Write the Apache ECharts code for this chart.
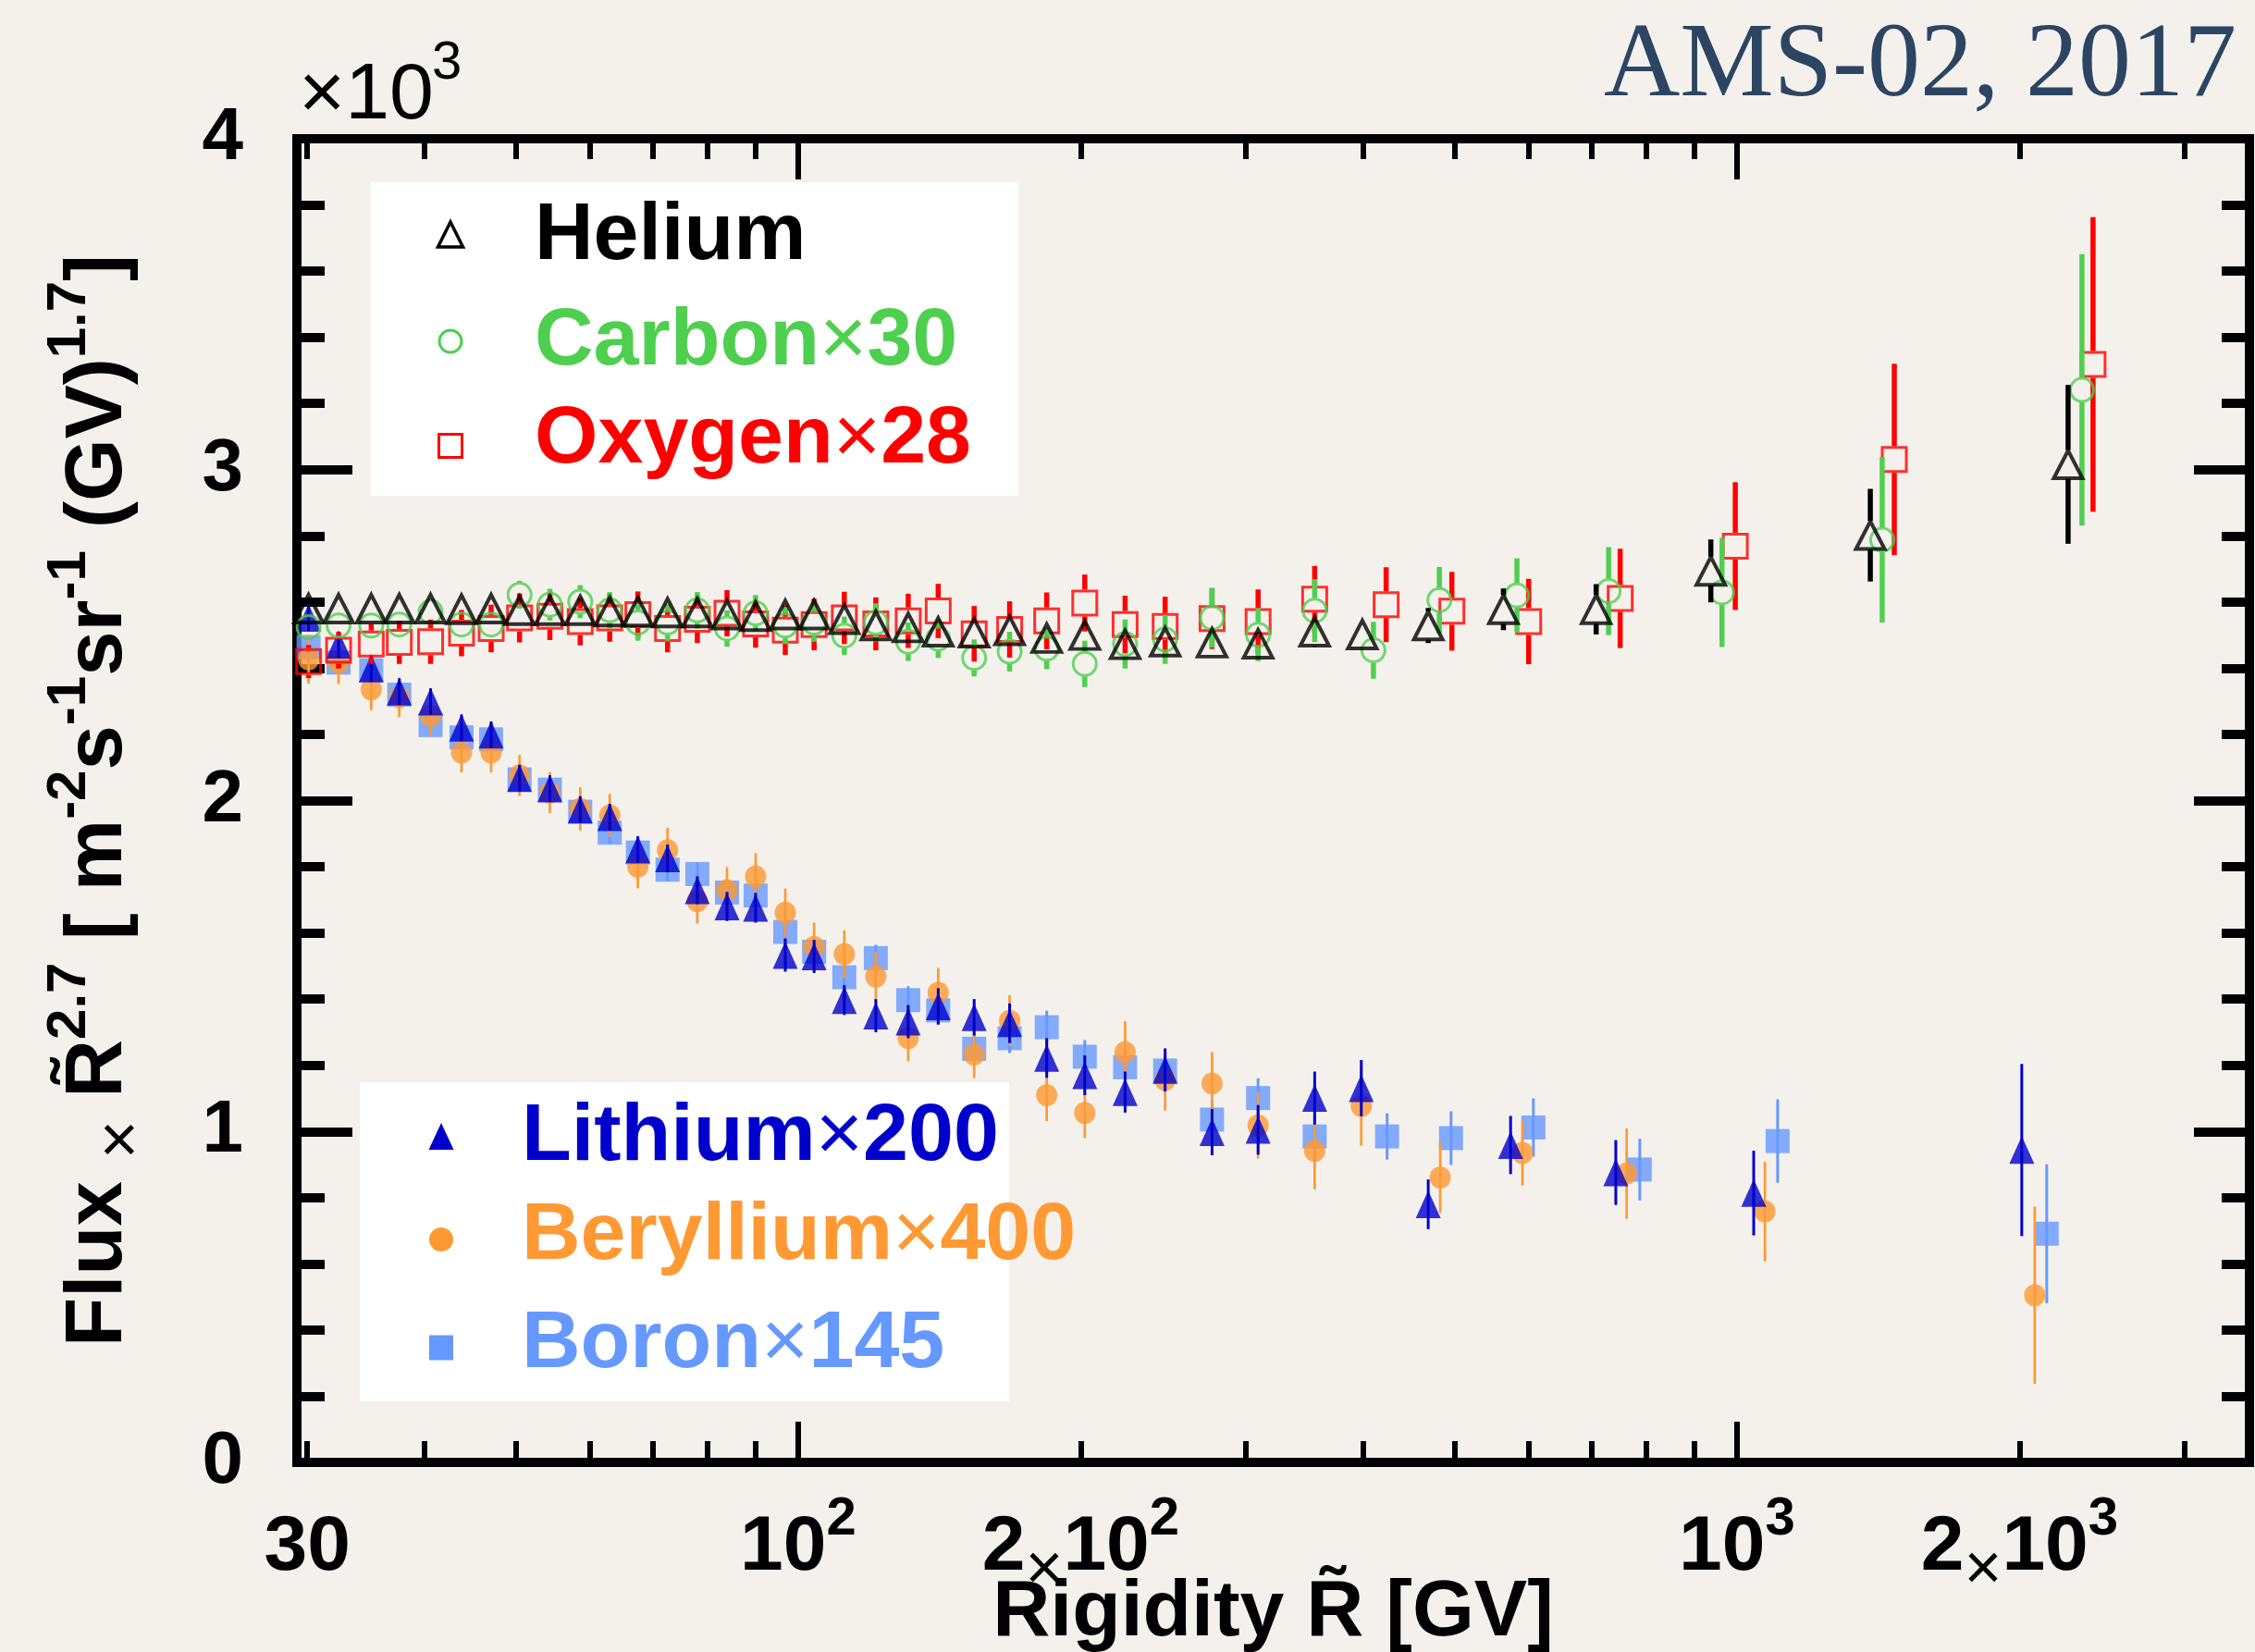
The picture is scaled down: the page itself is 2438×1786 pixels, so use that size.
<!DOCTYPE html>
<html>
<head>
<meta charset="utf-8">
<script src="https://cdn.jsdelivr.net/npm/echarts@6/dist/echarts.min.js"></script>
<style>
  html, body { margin: 0; padding: 0; background: #f4f1ec; }
  #chart { width: 2438px; height: 1786px; }
</style>
</head>
<body>
<div id="chart"></div>
<script>
// Rigidity (GV) and flux x R^2.7 values for each nucleus (scaled as in the legend)
const heliumR    = [30.1, 32.4, 35.1, 37.6, 40.6, 43.8, 47.1, 50.5, 54.4, 58.6, 63.0, 67.5, 72.6, 78.1, 84.0, 90.1, 96.9, 104, 112, 121, 131, 141, 154, 168, 184, 202, 223, 246, 276, 309, 355, 399, 469, 564, 708, 938, 1387, 2253];
const heliumFlux = [2580, 2580, 2580, 2580, 2580, 2578, 2580, 2575, 2575, 2575, 2571, 2571, 2568, 2568, 2562, 2557, 2562, 2562, 2548, 2529, 2523, 2510, 2507, 2514, 2491, 2500, 2472, 2480, 2477, 2474, 2510, 2502, 2529, 2578, 2578, 2694, 2802, 3016];
const heliumErr  = [15, 15, 15, 15, 15, 15, 15, 15, 15, 15, 15, 15, 15, 15, 15, 15, 15, 18, 18, 18, 20, 20, 20, 22, 22, 25, 25, 28, 30, 35, 45, 40, 53, 63, 76, 95, 140, 240];

const carbonR    = [30.1, 32.4, 35.1, 37.6, 40.6, 43.8, 47.1, 50.5, 54.4, 58.6, 63.0, 67.5, 72.6, 78.1, 84.0, 90.1, 96.9, 104, 112, 121, 131, 141, 154, 168, 184, 202, 223, 246, 276, 309, 355, 410, 482, 583, 730, 964, 1428, 2331];
const carbonFlux = [2524, 2529, 2529, 2532, 2570, 2532, 2532, 2622, 2592, 2601, 2575, 2538, 2538, 2575, 2520, 2566, 2529, 2538, 2498, 2538, 2480, 2489, 2431, 2450, 2459, 2413, 2473, 2487, 2552, 2501, 2574, 2454, 2606, 2620, 2633, 2629, 2788, 3241];
const carbonErr  = [33, 33, 33, 33, 35, 35, 35, 42, 48, 50, 55, 55, 55, 55, 55, 55, 56, 58, 58, 58, 58, 58, 56, 60, 62, 70, 74, 74, 90, 80, 95, 86, 100, 112, 133, 165, 250, 410];

const oxygenR    = [30.1, 32.4, 35.1, 37.6, 40.6, 43.8, 47.1, 50.5, 54.4, 58.6, 63.0, 67.5, 72.6, 78.1, 84.0, 90.1, 96.9, 104, 112, 121, 131, 141, 154, 168, 184, 202, 223, 246, 276, 309, 355, 423, 497, 600, 751, 996, 1471, 2395];
const oxygenFlux = [2420, 2454, 2473, 2478, 2480, 2506, 2520, 2552, 2557, 2541, 2552, 2562, 2520, 2548, 2566, 2534, 2515, 2532, 2552, 2534, 2543, 2573, 2504, 2517, 2543, 2597, 2532, 2526, 2550, 2541, 2609, 2592, 2572, 2541, 2611, 2769, 3031, 3318];
const oxygenErr  = [50, 55, 60, 65, 67, 70, 72, 74, 72, 72, 72, 70, 72, 72, 70, 72, 75, 78, 79, 80, 82, 82, 84, 85, 86, 86, 87, 90, 92, 97, 100, 113, 119, 129, 150, 193, 289, 445];

const lithiumR    = [30.1, 32.4, 35.1, 37.6, 40.6, 43.8, 47.1, 50.5, 54.4, 58.6, 63.0, 67.5, 72.6, 78.1, 84.0, 90.1, 96.9, 104, 112, 121, 131, 141, 154, 168, 184, 202, 223, 246, 276, 309, 355, 398, 469, 574, 743, 1042, 2011];
const lithiumFlux = [2552, 2471, 2399, 2329, 2299, 2220, 2199, 2068, 2036, 1973, 1950, 1852, 1825, 1729, 1680, 1676, 1533, 1529, 1397, 1350, 1332, 1378, 1345, 1327, 1222, 1170, 1119, 1186, 998, 1005, 1101, 1131, 780, 959, 876, 814, 944];
const lithiumErr  = [40, 40, 40, 40, 40, 40, 40, 40, 40, 40, 40, 40, 42, 42, 44, 45, 50, 50, 45, 50, 50, 55, 55, 60, 60, 60, 62, 65, 70, 75, 80, 85, 75, 88, 98, 128, 260];

const berylliumR    = [30.1, 32.4, 35.1, 37.6, 40.6, 43.8, 47.1, 50.5, 54.4, 58.6, 63.0, 67.5, 72.6, 78.1, 84.0, 90.1, 96.9, 104, 112, 121, 131, 141, 154, 168, 184, 202, 223, 246, 276, 309, 355, 398, 483, 591, 763, 1071, 2076];
const berylliumFlux = [2427, 2417, 2336, 2312, 2256, 2145, 2145, 2076, 2024, 1975, 1955, 1800, 1850, 1696, 1729, 1771, 1661, 1558, 1536, 1468, 1282, 1419, 1233, 1335, 1110, 1056, 1240, 1156, 1145, 1018, 941, 1077, 861, 935, 873, 758, 505];
const berylliumErr  = [74, 65, 63, 60, 60, 60, 60, 62, 62, 65, 65, 65, 68, 68, 70, 70, 73, 73, 72, 75, 70, 75, 72, 77, 79, 76, 93, 93, 95, 100, 116, 120, 107, 98, 137, 151, 268];

const boronR    = [30.1, 32.4, 35.1, 37.6, 40.6, 43.8, 47.1, 50.5, 54.4, 58.6, 63.0, 67.5, 72.6, 78.1, 84.0, 90.1, 96.9, 104, 112, 121, 131, 141, 154, 168, 184, 202, 223, 246, 276, 309, 355, 424, 496, 607, 788, 1105, 2138];
const boronFlux = [2464, 2417, 2394, 2320, 2228, 2191, 2185, 2064, 2033, 1966, 1903, 1843, 1791, 1778, 1722, 1713, 1603, 1543, 1466, 1524, 1397, 1366, 1250, 1282, 1315, 1226, 1194, 1184, 1036, 1101, 985, 985, 980, 1012, 885, 971, 691];
const boronErr  = [30, 30, 30, 30, 30, 30, 30, 32, 32, 32, 34, 34, 35, 35, 36, 36, 38, 38, 40, 40, 42, 42, 44, 45, 50, 50, 52, 55, 58, 60, 65, 70, 81, 88, 93, 126, 210];

// Axis ranges and tick positions
const xRange = [29.25, 3515];
const yRange = [0, 4000];
const xMinorTicks = [30, 40, 50, 60, 70, 80, 90, 200, 300, 400, 500, 600, 700, 800, 900, 2000, 3000];
const xMajorTicks = [100, 1000];
const xLabelValues = [30, 100, 200, 1000, 2000];
const xLabelTexts  = ['{n|30}', '{n|10}{s|2}', '{n|2}{x|×}{n|10}{s|2}', '{n|10}{s|3}', '{n|2}{x|×}{n|10}{s|3}'];

const SANS = "'Liberation Sans', Arial, Helvetica, sans-serif";
const COLORS = {
  helium: '#000000', carbon: '#4fcf4f', oxygen: '#ff0000',
  lithium: '#0000cc', beryllium: '#ff9933', boron: '#6699ff'
};

function pairs(xs, ys) { return xs.map((x, i) => [x, ys[i]]); }

function markerSeries(name, xs, ys, symbol, size, itemStyle, z) {
  return {
    name, type: 'scatter', xAxisIndex: 0, yAxisIndex: 0,
    data: pairs(xs, ys), symbol, symbolSize: size, itemStyle,
    z, silent: true, animation: false
  };
}

// Vertical error bars; "gap" leaves the inside of an open marker empty
function errorSeries(name, xs, ys, es, color, width, gap, z) {
  return {
    name: name + ' err', type: 'custom', xAxisIndex: 0, yAxisIndex: 0,
    data: xs.map((x, i) => [x, ys[i], es[i]]),
    encode: { x: 0, y: 1 }, z, silent: true, animation: false,
    renderItem(params, api) {
      const x = api.value(0), v = api.value(1), e = api.value(2);
      const c = api.coord([x, v]);
      const hi = api.coord([x, v + e]);
      const lo = api.coord([x, v - e]);
      const st = { stroke: color, lineWidth: width };
      const kids = [];
      if (c[1] - gap > hi[1]) kids.push({ type: 'line', shape: { x1: c[0], y1: hi[1], x2: c[0], y2: c[1] - gap }, style: st });
      if (lo[1] > c[1] + gap) kids.push({ type: 'line', shape: { x1: c[0], y1: c[1] + gap, x2: c[0], y2: lo[1] }, style: st });
      return { type: 'group', children: kids };
    }
  };
}

const tickLine = { color: '#000', width: 6 };
const frameLine = { color: '#000', width: 10, cap: 'square' };

function logAxis(extra) {
  return Object.assign({
    type: 'log', logBase: 10, min: xRange[0], max: xRange[1],
    splitLine: { show: false }, axisLabel: { show: false },
    axisLine: { show: false, onZero: false }
  }, extra);
}

const xLabelRich = {
  n: { fontSize: 84, fontWeight: 'bold', fontFamily: SANS, color: '#000', lineHeight: 120 },
  s: { fontSize: 58, fontWeight: 'bold', fontFamily: SANS, color: '#000', lineHeight: 58, verticalAlign: 'top' },
  x: { fontSize: 70, fontWeight: 'normal', fontFamily: SANS, color: '#000', lineHeight: 96, verticalAlign: 'bottom' }
};

const option = {
  backgroundColor: '#f4f1ec',
  animation: false,
  grid: { left: 321, right: 6, top: 150, bottom: 205, containLabel: false, outerBoundsMode: 'none' },
  xAxis: [
    logAxis({
      position: 'bottom',
      axisLine: { show: true, onZero: false, lineStyle: frameLine },
      axisTick: { show: true, inside: true, length: 23, customValues: xMinorTicks, lineStyle: tickLine },
      axisLabel: {
        show: true, customValues: xLabelValues, margin: 33,
        formatter: (v) => {
          let best = 0;
          xLabelValues.forEach((lv, i) => { if (Math.abs(lv - v) < Math.abs(xLabelValues[best] - v)) best = i; });
          return xLabelTexts[best];
        },
        rich: xLabelRich
      },
      name: 'Rigidity R\u0303 [GV]', nameLocation: 'middle', nameGap: 113, nameMoveOverlap: false,
      nameTextStyle: { fontSize: 86, fontWeight: 'bold', fontFamily: SANS, color: '#000', lineHeight: 100, verticalAlign: 'top' }
    }),
    logAxis({
      position: 'bottom',
      axisTick: { show: true, inside: true, length: 44, customValues: xMajorTicks, lineStyle: tickLine }
    }),
    logAxis({
      position: 'top',
      axisLine: { show: true, onZero: false, lineStyle: frameLine },
      axisTick: { show: true, inside: true, length: 22, customValues: xMinorTicks, lineStyle: tickLine }
    }),
    logAxis({
      position: 'top',
      axisTick: { show: true, inside: true, length: 44, customValues: xMajorTicks, lineStyle: tickLine }
    })
  ],
  yAxis: [
    {
      type: 'value', min: yRange[0], max: yRange[1], interval: 1000, position: 'left',
      axisLine: { show: true, onZero: false, lineStyle: frameLine },
      axisTick: { show: true, inside: true, length: 60, lineStyle: { color: '#000', width: 10 } },
      minorTick: { show: true, splitNumber: 5, length: 30, lineStyle: { color: '#000', width: 10 } },
      splitLine: { show: false },
      axisLabel: { formatter: (v) => String(v / 1000), fontSize: 80, fontWeight: 'bold', fontFamily: SANS, color: '#000', margin: 58 },
      name: '{t|Flux }{x|×}{t| R\u0303}{s|2.7}{t| [ m}{s|-2}{t|s}{s|-1}{t|sr}{s|-1}{t| (GV)}{s|1.7}{t|]}',
      nameLocation: 'middle', nameRotate: 90, nameGap: 152, nameMoveOverlap: false,
      nameTextStyle: {
        rich: {
          t: { fontSize: 87, fontWeight: 'bold', fontFamily: SANS, color: '#000', lineHeight: 124 },
          s: { fontSize: 60, fontWeight: 'bold', fontFamily: SANS, color: '#000', lineHeight: 60, verticalAlign: 'top' },
          x: { fontSize: 72, fontWeight: 'normal', fontFamily: SANS, color: '#000', lineHeight: 108, verticalAlign: 'bottom' }
        }
      }
    },
    {
      type: 'value', min: yRange[0], max: yRange[1], interval: 1000, position: 'right',
      axisLine: { show: true, onZero: false, lineStyle: frameLine },
      axisTick: { show: true, inside: true, length: 60, lineStyle: { color: '#000', width: 10 } },
      minorTick: { show: true, splitNumber: 5, length: 30, lineStyle: { color: '#000', width: 10 } },
      splitLine: { show: false },
      axisLabel: { show: false }
    }
  ],
  series: [
    errorSeries('Boron', boronR, boronFlux, boronErr, COLORS.boron, 3, 0, 3),
    markerSeries('Boron', boronR, boronFlux, 'rect', [26, 26], { color: COLORS.boron }, 4),
    errorSeries('Beryllium', berylliumR, berylliumFlux, berylliumErr, COLORS.beryllium, 2.7, 0, 5),
    markerSeries('Beryllium', berylliumR, berylliumFlux, 'circle', [23, 24], { color: COLORS.beryllium }, 6),
    errorSeries('Lithium', lithiumR, lithiumFlux, lithiumErr, COLORS.lithium, 3, 0, 7),
    markerSeries('Lithium', lithiumR, lithiumFlux, 'triangle', [27, 30], { color: COLORS.lithium }, 8),

    errorSeries('Oxygen', oxygenR, oxygenFlux, oxygenErr, COLORS.oxygen, 5.5, 14.5, 9),
    markerSeries('Oxygen', oxygenR, oxygenFlux, 'rect', [26, 26], { color: 'rgba(0,0,0,0)', borderColor: COLORS.oxygen, borderWidth: 3 }, 10),
    errorSeries('Carbon', carbonR, carbonFlux, carbonErr, COLORS.carbon, 5.5, 13.5, 11),
    markerSeries('Carbon', carbonR, carbonFlux, 'circle', [25, 25], { color: 'rgba(0,0,0,0)', borderColor: COLORS.carbon, borderWidth: 3 }, 12),
    errorSeries('Helium', heliumR, heliumFlux, heliumErr, COLORS.helium, 5.5, 15.5, 13),
    markerSeries('Helium', heliumR, heliumFlux, 'triangle', [31, 30], { color: 'rgba(0,0,0,0)', borderColor: COLORS.helium, borderWidth: 4 }, 14)
  ],
  graphic: [
    // headline
    { type: 'text', z: 50, style: { x: 2418, y: 73, text: 'AMS-02, 2017', align: 'right', verticalAlign: 'middle',
      font: "114px 'Liberation Serif', 'DejaVu Serif', serif", fill: '#2c4563' } },
    // axis multiplier
    { type: 'text', z: 50, style: { x: 323, y: 104, text: '×10', align: 'left', verticalAlign: 'middle',
      font: "86px " + SANS, fill: '#000' } },
    { type: 'text', z: 50, style: { x: 467, y: 69, text: '3', align: 'left', verticalAlign: 'middle',
      font: "58px " + SANS, fill: '#000' } },

    // upper legend
    { type: 'rect', z: 40, shape: { x: 401, y: 197, width: 700, height: 339 }, style: { fill: '#ffffff' } },
    { type: 'polygon', z: 41, shape: { points: [[487, 240], [500.5, 267], [473.5, 267]] }, style: { fill: 'none', stroke: '#000', lineWidth: 3.5 } },
    { type: 'circle', z: 41, shape: { cx: 487, cy: 369, r: 12 }, style: { fill: 'none', stroke: COLORS.carbon, lineWidth: 3 } },
    { type: 'rect', z: 41, shape: { x: 474.5, y: 469.5, width: 25, height: 25 }, style: { fill: 'none', stroke: COLORS.oxygen, lineWidth: 3 } },
    { type: 'text', z: 42, style: { x: 578, y: 256, text: 'Helium', verticalAlign: 'middle', font: "bold 88px " + SANS, fill: COLORS.helium } },
    { type: 'text', z: 42, style: { x: 578, y: 370, text: '{a|Carbon}{b|×}{a|30}', verticalAlign: 'middle',
      rich: { a: { font: "bold 88px " + SANS, fill: COLORS.carbon }, b: { font: "88px " + SANS, fill: COLORS.carbon } } } },
    { type: 'text', z: 42, style: { x: 578, y: 476, text: '{a|Oxygen}{b|×}{a|28}', verticalAlign: 'middle',
      rich: { a: { font: "bold 88px " + SANS, fill: COLORS.oxygen }, b: { font: "88px " + SANS, fill: COLORS.oxygen } } } },

    // lower legend
    { type: 'rect', z: 40, shape: { x: 389, y: 1170, width: 702, height: 345 }, style: { fill: '#ffffff' } },
    { type: 'polygon', z: 41, shape: { points: [[477, 1214], [490.5, 1243], [463.5, 1243]] }, style: { fill: COLORS.lithium } },
    { type: 'circle', z: 41, shape: { cx: 477, cy: 1340, r: 13 }, style: { fill: COLORS.beryllium } },
    { type: 'rect', z: 41, shape: { x: 464, y: 1443.5, width: 26, height: 27 }, style: { fill: COLORS.boron } },
    { type: 'text', z: 42, style: { x: 564, y: 1230, text: '{a|Lithium}{b|×}{a|200}', verticalAlign: 'middle',
      rich: { a: { font: "bold 88px " + SANS, fill: COLORS.lithium }, b: { font: "88px " + SANS, fill: COLORS.lithium } } } },
    { type: 'text', z: 42, style: { x: 564, y: 1337, text: '{a|Beryllium}{b|×}{a|400}', verticalAlign: 'middle',
      rich: { a: { font: "bold 88px " + SANS, fill: COLORS.beryllium }, b: { font: "88px " + SANS, fill: COLORS.beryllium } } } },
    { type: 'text', z: 42, style: { x: 564, y: 1454, text: '{a|Boron}{b|×}{a|145}', verticalAlign: 'middle',
      rich: { a: { font: "bold 88px " + SANS, fill: COLORS.boron }, b: { font: "88px " + SANS, fill: COLORS.boron } } } }
  ]
};

const chart = echarts.init(document.getElementById('chart'), null, { renderer: 'canvas', width: 2438, height: 1786 });
chart.setOption(option);
</script>
</body>
</html>
